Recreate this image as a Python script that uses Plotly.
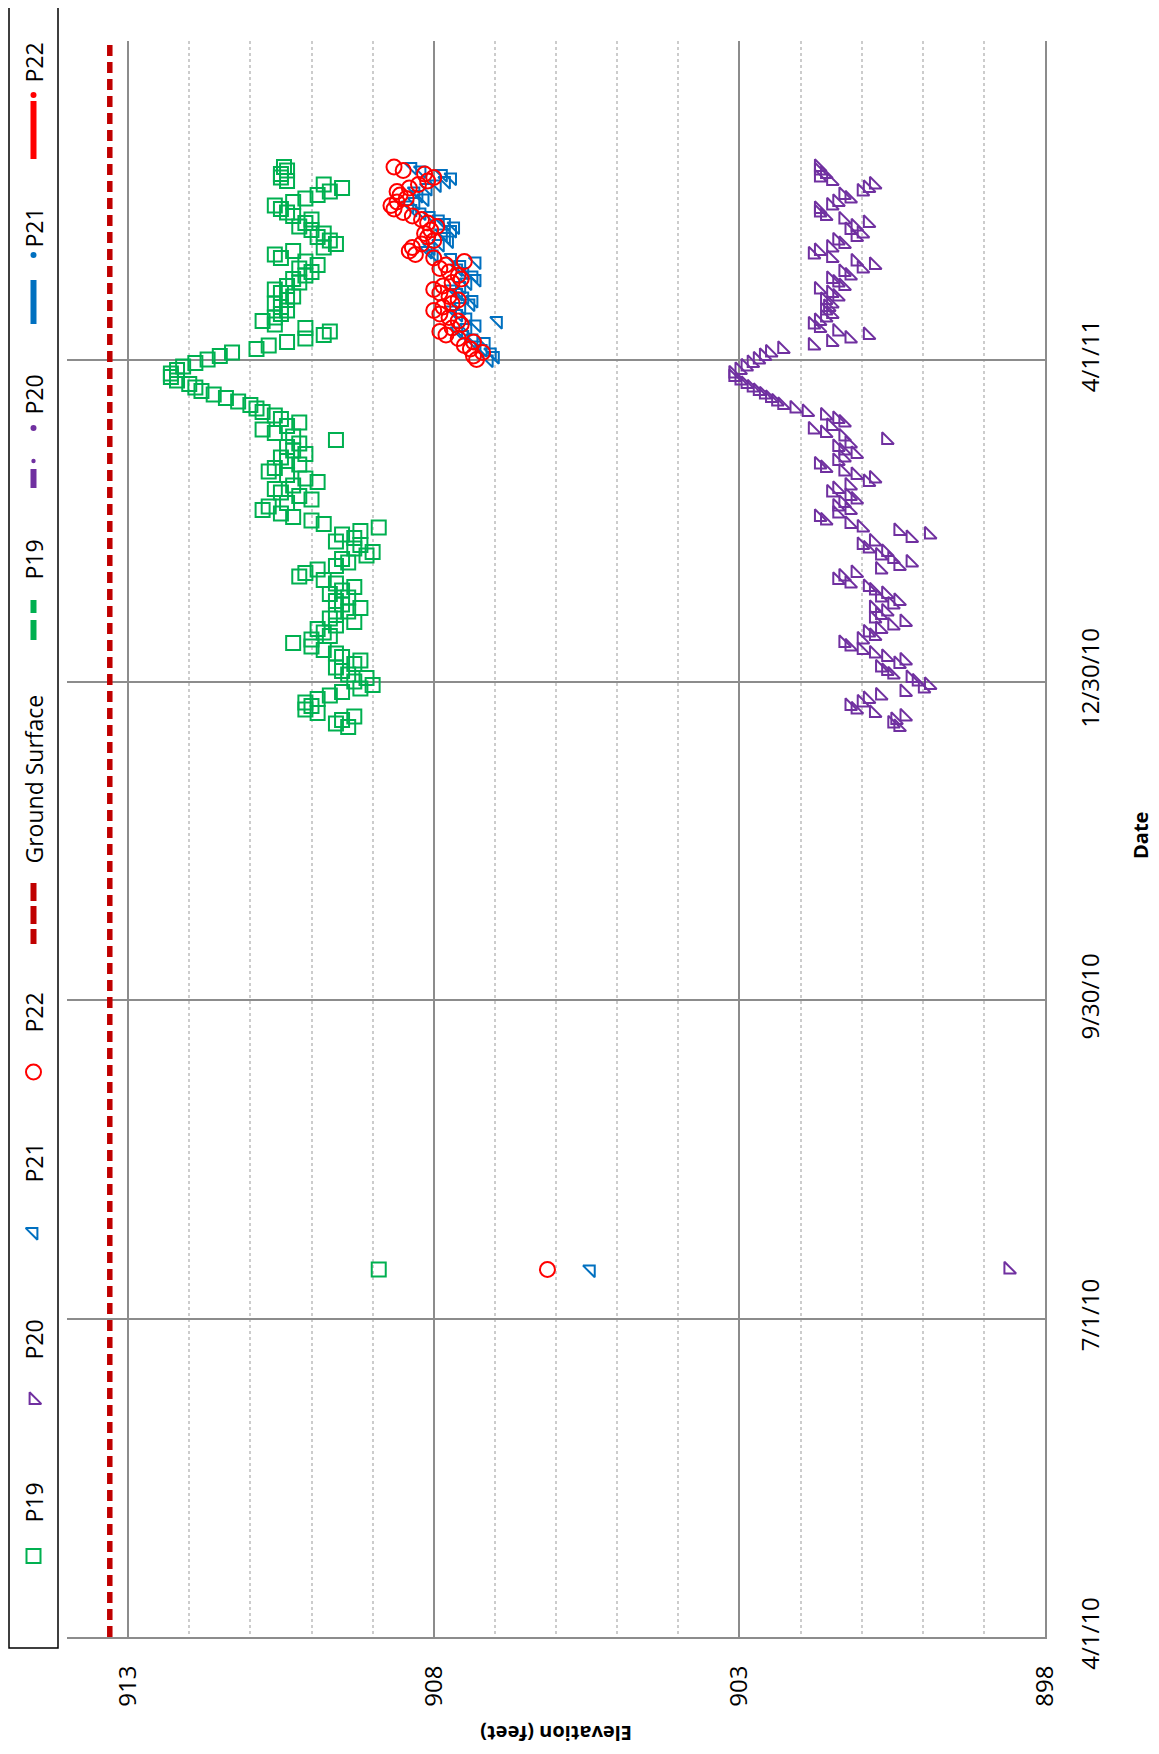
import plotly.graph_objects as go
import pandas as pd

W, H = 1159, 1754
OFF = 8  # default page margin of the browser body

# ---------------- data ----------------
DATE_TICKS = ["2010-04-01", "2010-07-01", "2010-09-30", "2010-12-30", "2011-04-01", "2011-07-01"]
DATE_LABELS = ["4/1/10", "7/1/10", "9/30/10", "12/30/10", "4/1/11", "7/1/11"]

GROUND_DATES = ["2010-04-01", "2011-07-01"]
GROUND_ELEV = [913.3, 913.3]

EARLY_DATE = ["2010-07-15"]
P19_EARLY = [908.9]
P20_EARLY = [898.6]
P21_EARLY = [905.43]
P22_EARLY = [906.14]

P19_START = "2010-12-17"
P19 = [909.4, 909.6, 909.5, 909.3, 909.9, 910.1, 910.0, 910.1, 909.9, 909.7,
       909.5, 909.2, 909.0, 909.3, 909.1, 909.4, 909.5, 909.6, 909.3, 909.2,
       909.5, 909.6, 909.8, 910.0, 910.3, 910.0, 909.7, 909.8, 909.9, 909.6,
       909.3, 909.7, 909.6, 909.4, 909.2, 909.5, 909.6, 909.4, 909.7, 909.5,
       909.3, 909.6, 909.8, 910.2, 910.1, 909.9, 909.6, 909.4, 909.5, 909.1,
       909.0, 909.3, 909.2, 909.6, 909.3, 909.5, 909.2, 908.9, 909.8, 910.0,
       910.3, 910.5, 910.8, 910.7, 910.4, 910.0, 910.2, 910.5, 910.6, 910.3,
       909.9, 910.1, 910.4, 910.7, 910.6, 910.2, 910.4, 910.5, 910.1, 910.3,
       910.4, 910.2, 909.6, 910.3, 910.6, 910.8, 910.4, 910.2, 910.5, 910.6,
       910.8, 910.9, 911.0, 911.2, 911.4, 911.6, 911.8, 911.9, 912.0, 912.2,
       912.3, 912.3, 912.2, 912.1, 911.9, 911.7, 911.5, 911.3, 910.9, 910.7,
       910.4, 910.1, 909.8, 909.7, 910.1, 910.6, 910.8, 910.6, 910.5, 910.4,
       910.5, 910.6, 910.4, 910.3, 910.5, 910.6, 910.4, 910.2, 910.3, 910.1,
       910.0, 910.2, 909.9, 910.1, 910.5, 910.6, 910.3, 909.8, 909.6, 909.7,
       909.9, 909.8, 910.0, 910.2, 910.1, 910.0, 910.3, 910.4, 910.5, 910.6,
       910.3, 910.1, 909.9, 909.7, 909.5, 909.8, 910.4, 910.5, 910.5, 910.4,
       910.45]

P20_START = "2010-12-17"
P20 = [900.4, 900.5, 900.45, 900.3, 900.8, 901.1, 901.2, 901.0, 900.9, 900.7,
       900.3, 900.0, 899.9, 900.1, 900.2, 900.5, 900.6, 900.7, 900.4, 900.3,
       900.6, 900.8, 901.0, 901.2, 901.3, 901.0, 900.8, 900.9, 900.7, 900.5,
       900.3, 900.8, 900.7, 900.6, 900.8, 900.5, 900.4, 900.7, 900.6, 900.8,
       900.9, 901.2, 901.4, 901.3, 901.1, 900.7, 900.4, 900.2, 900.5, 900.7,
       900.6, 900.9, 901.0, 900.8, 900.2, 899.9, 900.4, 901.0, 901.2, 901.6,
       901.7, 901.4, 901.2, 901.4, 901.3, 901.1, 901.2, 901.5, 901.4, 901.2,
       900.9, 900.8, 901.1, 901.3, 901.6, 901.7, 901.4, 901.3, 901.1, 901.3,
       901.4, 901.2, 900.6, 901.3, 901.6, 901.8, 901.5, 901.3, 901.4, 901.6,
       901.9, 902.1, 902.3, 902.4, 902.5, 902.6, 902.7, 902.8, 902.9, 903.0,
       903.1, 903.1, 903.0, 902.9, 902.8, 902.7, 902.6, 902.5, 902.3, 901.8,
       901.5, 901.2, 900.9, 901.4, 901.7, 901.8, 901.7, 901.6, 901.5, 901.6,
       901.55, 901.5, 901.6, 901.4, 901.5, 901.7, 901.3, 901.4, 901.5, 901.2,
       901.3, 901.0, 900.8, 901.1, 901.5, 901.8, 901.7, 901.5, 901.3, 901.4,
       901.1, 901.0, 901.2, 901.1, 900.9, 901.3, 901.6, 901.7, 901.7, 901.5,
       901.4, 901.2, 901.3, 901.0, 900.9, 900.8, 901.5, 901.7, 901.6, 901.7,
       901.7]

P21_START = "2011-04-01"
P21 = [907.1, 907.0, 907.05, 907.2, 907.3, 907.15, 907.35, 907.5, 907.6, 907.45,
       907.3, 906.95, 907.45, 907.6, 907.7, 907.55, 907.4, 907.35, 907.5, 907.6,
       907.7, 907.55, 907.45, 907.3, 907.35, 907.5, 907.6, 907.55, 907.3, 907.7,
       908.0, 908.1, 908.05, 907.9, 907.75, 907.8, 907.85, 907.7, 907.65, 907.8,
       907.9, 908.05, 908.2, 908.35, 908.4, 908.3, 908.15, 908.25, 908.3, 908.1,
       907.95, 907.8, 907.7, 907.85, 908.2, 908.35]

P22_START = "2011-04-01"
P22 = [907.3, 907.35, 907.2, 907.4, 907.5, 907.35, 907.6, 907.8, 907.9, 907.7,
       907.55, 907.6, 907.75, 907.9, 908.0, 907.85, 907.7, 907.6, 907.75, 907.9,
       908.0, 907.85, 907.7, 907.55, 907.6, 907.75, 907.9, 907.8, 907.5, 908.0,
       908.3, 908.4, 908.35, 908.2, 908.0, 908.1, 908.15, 908.05, 907.95, 908.1,
       908.2, 908.35, 908.5, 908.65, 908.7, 908.6, 908.45, 908.55, 908.6, 908.4,
       908.25, 908.1, 908.0, 908.15, 908.5, 908.65]


def dates(early, start, vals):
    return early + list(pd.date_range(start, periods=len(vals), freq="D").strftime("%Y-%m-%d"))


GREEN = "#00B050"
PURPLE = "#7030A0"
BLUE = "#0070C0"
RED = "#FF0000"
DARKRED = "#C00000"

STYLE = {
    "P19": dict(symbol="square-open", size=14, color=GREEN),
    "P20": dict(symbol="triangle-sw-open", size=13, color=PURPLE),
    "P21": dict(symbol="triangle-ne-open", size=13, color=BLUE),
    "P22": dict(symbol="circle-open", size=15, color=RED),
}

fig = go.Figure()

fig.add_trace(go.Scatter(x=GROUND_ELEV, y=GROUND_DATES, mode="lines", name="Ground Surface",
                         line=dict(color=DARKRED, width=5.5, dash="11px,6px")))

for name, early, start, vals in [("P19", P19_EARLY, P19_START, P19),
                                 ("P20", P20_EARLY, P20_START, P20),
                                 ("P21", P21_EARLY, P21_START, P21),
                                 ("P22", P22_EARLY, P22_START, P22)]:
    s = STYLE[name]
    fig.add_trace(go.Scatter(
        x=early + vals, y=dates(EARLY_DATE, start, vals), mode="markers", name=name,
        marker=dict(symbol=s["symbol"], size=s["size"], color=s["color"],
                    line=dict(width=2, color=s["color"]))))

# ---------------- manual (rotated) legend, positions in page pixels ----------------
LEG_X = 33.5
legend_markers = [("P22", 1072), ("P21", 1232), ("P20", 1400), ("P19", 1556)]
for name, py in legend_markers:
    s = STYLE[name]
    fig.add_trace(go.Scatter(x=[LEG_X], y=[py], xaxis="x2", yaxis="y2", mode="markers",
                             hoverinfo="skip", cliponaxis=False,
                             marker=dict(symbol=s["symbol"], size=s["size"], color=s["color"],
                                         line=dict(width=2, color=s["color"]))))

shapes = [dict(type="rect", xref="x2", yref="y2", x0=9, x1=58, y0=6, y1=1648,
               line=dict(color="black", width=1.5), fillcolor="rgba(0,0,0,0)")]


def seg(y0, y1, color, w=6):
    shapes.append(dict(type="line", xref="x2", yref="y2", x0=LEG_X, x1=LEG_X, y0=y0, y1=y1,
                       line=dict(color=color, width=w)))


def dot(yc, color, r=3):
    shapes.append(dict(type="circle", xref="x2", yref="y2", x0=LEG_X - r, x1=LEG_X + r,
                       y0=yc - r, y1=yc + r, line=dict(width=0), fillcolor=color))


seg(101, 159, RED); dot(95, RED)
seg(280, 324, BLUE); dot(255, BLUE)
seg(469, 488, PURPLE); dot(461, PURPLE, 2.2); dot(428, PURPLE)
seg(600, 613, GREEN); seg(620, 640, GREEN)
seg(883, 901, DARKRED); seg(906, 924, DARKRED); seg(929, 944, DARKRED)

annotations = []
for text, py in [("P22", 63), ("P21", 228), ("P20", 395), ("P19", 560), ("Ground Surface", 779),
                 ("P22", 1013), ("P21", 1163), ("P20", 1340), ("P19", 1503)]:
    annotations.append(dict(x=LEG_X, y=py, xref="x2", yref="y2", text=text, showarrow=False,
                            textangle=-90, font=dict(size=23, color="black")))

annotations.append(dict(x=556, y=1734, xref="x2", yref="y2", text="<b>Elevation (feet)</b>",
                        showarrow=False, textangle=180, font=dict(size=20, color="black")))
annotations.append(dict(x=1140, y=836, xref="x2", yref="y2", text="<b>Date</b>",
                        showarrow=False, textangle=-90, font=dict(size=20, color="black")))

fig.update_layout(
    width=W, height=H,
    margin=dict(l=0, r=0, t=0, b=0, autoexpand=False),
    paper_bgcolor="white", plot_bgcolor="rgba(0,0,0,0)",
    showlegend=False,
    font=dict(family="Open Sans", size=24, color="black"),
    xaxis=dict(domain=[(67 - OFF) / W, (1045 - OFF) / W], range=[914, 898],
               tickmode="linear", tick0=898, dtick=5,
               showgrid=True, gridcolor="#8c8c8c", gridwidth=2,
               minor=dict(tickmode="linear", tick0=898, dtick=1, showgrid=True,
                          gridcolor="#cccccc", griddash="dot", gridwidth=1.5),
               zeroline=False, showline=True, linecolor="#8c8c8c", linewidth=2,
               ticks="", tickangle=-90, ticklabelstandoff=17, tickfont=dict(size=24),
               anchor="y", side="bottom"),
    yaxis=dict(domain=[1 - (1637 - OFF) / H, 1 - (41 - OFF) / H], type="date",
               range=["2010-04-01", "2011-07-01"], tickmode="array",
               tickvals=DATE_TICKS, ticktext=DATE_LABELS,
               showgrid=True, gridcolor="#8c8c8c", gridwidth=2,
               zeroline=False, showline=True, linecolor="#8c8c8c", linewidth=2,
               side="right", ticks="", tickangle=-90, ticklabelstandoff=23,
               tickfont=dict(size=24), anchor="x"),
    xaxis2=dict(domain=[0, 1], range=[OFF, W + OFF], visible=False, anchor="y2", fixedrange=True),
    yaxis2=dict(domain=[0, 1], range=[H + OFF, OFF], visible=False, anchor="x2", fixedrange=True),
    shapes=shapes,
    annotations=annotations,
)

fig.write_html("out.html")
